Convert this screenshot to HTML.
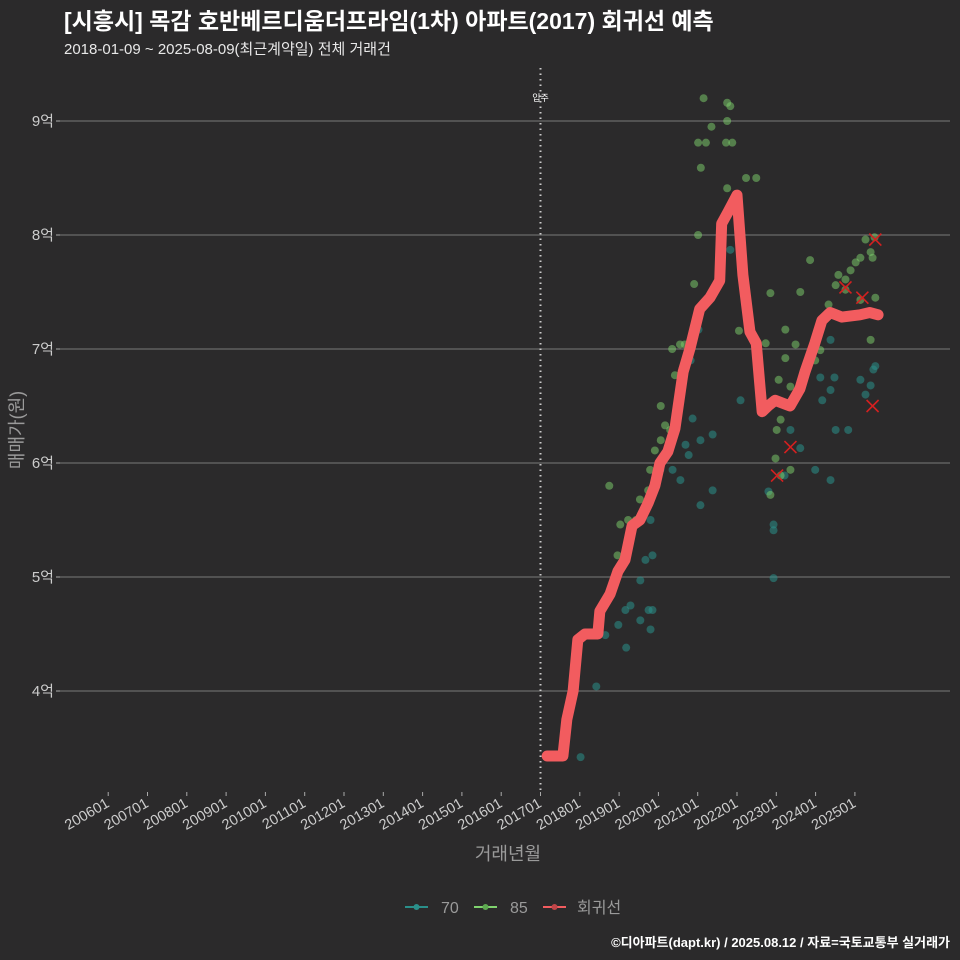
<!DOCTYPE html>
<html><head><meta charset="utf-8">
<style>
html,body{margin:0;padding:0;background:#2b2a2b;overflow:hidden;}
svg{display:block;}
svg text{font-family:"Liberation Sans","Noto Sans CJK KR",sans-serif;}
</style></head>
<body>
<svg id="chart" width="960" height="960" viewBox="0 0 960 960" xmlns="http://www.w3.org/2000/svg">
<rect width="960" height="960" fill="#2b2a2b"/>
<text x="64" y="29" fill="#ffffff" font-size="23" font-weight="bold">[시흥시] 목감 호반베르디움더프라임(1차) 아파트(2017) 회귀선 예측</text>
<text x="64" y="54" fill="#e8e8e8" font-size="15">2018-01-09 ~ 2025-08-09(최근계약일) 전체 거래건</text>
<g id="grid"></g>
<g id="yticks"></g>
<g id="xticks"></g>
<line x1="540.5" x2="540.5" y1="68" y2="790" stroke="#cccccc" stroke-width="2" stroke-dasharray="1.5,4"/>
<text x="540.5" y="101" fill="#ffffff" font-size="9" text-anchor="middle">입주</text>
<g id="pts70"></g>
<g id="pts85"></g>
<path id="reg" fill="none" stroke="#f25c5f" stroke-width="11" stroke-linejoin="round" stroke-linecap="round"/>
<g id="outliers"></g>
<text transform="translate(23,430) rotate(-90)" fill="#9a9a9a" font-size="18" text-anchor="middle">매매가(원)</text>
<text x="508" y="860" fill="#9a9a9a" font-size="18" text-anchor="middle">거래년월</text>
<g>
<g><line x1="405" x2="428" y1="907" y2="907" stroke="#2a8f8a" stroke-width="2"/><circle cx="416.5" cy="907" r="3" fill="#2a8f8a"/><text x="441" y="913" fill="#9a9a9a" font-size="16">70</text></g>
<g><line x1="474" x2="497" y1="907" y2="907" stroke="#7fd36e" stroke-width="2"/><circle cx="485.5" cy="907" r="3" fill="#5da850"/><text x="510" y="913" fill="#9a9a9a" font-size="16">85</text></g>
<g><line x1="543" x2="566" y1="907" y2="907" stroke="#f25c5f" stroke-width="2"/><circle cx="554.5" cy="907" r="3" fill="#c04548"/><text x="577" y="913" fill="#9a9a9a" font-size="16">회귀선</text></g>
</g>
<text x="950" y="947" fill="#ffffff" font-size="13" font-weight="bold" text-anchor="end">©디아파트(dapt.kr) / 2025.08.12 / 자료=국토교통부 실거래가</text>
</svg>
<script>
const yTicks=[9,8,7,6,5,4];
const yLabels=["9억","8억","7억","6억","5억","4억"];
const xTickYears=[2006,2007,2008,2009,2010,2011,2012,2013,2014,2015,2016,2017,2018,2019,2020,2021,2022,2023,2024,2025];
const xTickLabels=["200601","200701","200801","200901","201001","201101","201201","201301","201401","201501","201601","201701","201801","201901","202001","202101","202201","202301","202401","202501"];
const regYears=[2017.17,2017.57,2017.67,2017.83,2017.95,2018.13,2018.46,2018.51,2018.77,2018.97,2019.15,2019.33,2019.53,2019.74,2019.91,2020.04,2020.24,2020.42,2020.63,2020.80,2021.05,2021.31,2021.56,2021.61,2021.77,2022.00,2022.15,2022.33,2022.49,2022.64,2022.79,2022.97,2023.35,2023.60,2023.73,2023.98,2024.16,2024.37,2024.67,2025.13,2025.38,2025.59];
const regValues=[3.43,3.43,3.75,4.0,4.45,4.5,4.5,4.7,4.85,5.05,5.15,5.45,5.5,5.65,5.8,6.0,6.1,6.3,6.8,7.0,7.35,7.45,7.6,8.1,8.2,8.35,7.65,7.15,7.05,6.45,6.5,6.55,6.5,6.65,6.8,7.05,7.25,7.32,7.28,7.3,7.32,7.3];
const yrs85=[2021.15,2021.35,2021.01,2021.21,2021.75,2021.83,2021.75,2021.72,2021.88,2021.08,2022.23,2022.49,2021.01,2021.75,2020.91,2023.86,2023.61,2022.85,2022.21,2022.05,2020.80,2020.62,2020.42,2020.35,2020.55,2020.67,2020.06,2020.17,2020.06,2020.30,2019.91,2019.79,2019.74,2019.53,2019.43,2019.23,2018.75,2019.91,2019.03,2018.96,2023.23,2023.23,2023.36,2022.73,2023.61,2023.99,2024.12,2024.17,2024.33,2024.51,2024.58,2024.76,2024.89,2025.02,2025.14,2025.40,2025.27,2025.45,2025.52,2025.50,2024.76,2025.14,2025.40,2023.06,2023.01,2023.11,2022.98,2023.36,2023.11,2023.49,2022.85];
const vals85=[9.20,8.95,8.81,8.81,9.16,9.13,9.00,8.81,8.81,8.59,8.50,8.50,8.00,8.41,7.57,7.78,7.50,7.49,7.39,7.16,7.00,6.83,6.77,7.00,7.04,7.04,6.50,6.33,6.20,6.29,6.11,5.94,5.76,5.68,5.50,5.50,5.80,5.81,5.46,5.19,7.17,6.92,6.67,7.05,6.68,6.90,6.99,7.25,7.39,7.56,7.65,7.61,7.69,7.76,7.80,7.85,7.96,7.80,7.45,7.98,7.52,7.43,7.08,6.73,6.29,6.38,6.04,5.94,5.89,7.04,5.72];
const yrs70=[2021.38,2021.38,2021.83,2022.09,2021.58,2021.07,2020.82,2021.02,2020.87,2021.07,2020.77,2020.56,2020.69,2020.36,2020.05,2019.80,2019.80,2019.67,2019.85,2019.85,2019.75,2019.80,2019.54,2019.16,2019.18,2018.98,2019.54,2019.29,2018.42,2018.65,2018.02,2022.93,2022.93,2022.93,2022.80,2023.36,2023.61,2024.38,2024.48,2024.51,2024.38,2024.12,2024.17,2023.99,2024.38,2025.14,2025.27,2025.47,2025.40,2025.52,2024.83,2023.21];
const vals70=[6.25,5.76,7.87,6.55,7.91,5.63,6.90,7.17,6.39,6.20,6.07,5.85,6.16,5.94,5.94,5.68,5.50,5.15,5.19,4.71,4.71,4.54,4.97,4.71,4.38,4.58,4.62,4.75,4.04,4.49,3.42,5.46,5.41,4.99,5.75,6.29,6.13,6.64,6.75,6.29,7.08,6.75,6.55,5.94,5.85,6.73,6.60,6.82,6.68,6.85,6.29,5.89];
const outYears=[2025.52,2024.76,2025.19,2025.45,2023.36,2023.02];
const outValues=[7.96,7.54,7.45,6.50,6.14,5.89];

const NS="http://www.w3.org/2000/svg";
const xs=y=>540.5+(y-2017)*39.3;
const ys=v=>121+(9-v)*114;
function mk(tag,attrs,parent){const e=document.createElementNS(NS,tag);for(const k in attrs)e.setAttribute(k,attrs[k]);parent.appendChild(e);return e;}
const grid=document.getElementById('grid'),yt=document.getElementById('yticks'),xt=document.getElementById('xticks');
yTicks.forEach((v,i)=>{
  const l=mk('line',{x1:60,x2:950,y1:ys(v),y2:ys(v),stroke:'#6a6a6a','stroke-width':1.2},grid);
  
  
  const t=mk('line',{x1:56,x2:60,y1:ys(v),y2:ys(v),stroke:'#aaa'},yt);
  
  
  const tx=mk('text',{x:54,y:ys(v)+5,fill:'#cccccc','font-size':15,'text-anchor':'end'},yt);
  tx.textContent=yLabels[i];
  
  
});
xTickYears.forEach((yr,i)=>{
  const x=xs(yr);
  const t=mk('line',{x1:x,x2:x,y1:792,y2:796,stroke:'#aaa'},xt);
  
  
  const tx=mk('text',{x:x+2,y:806,fill:'#cccccc','font-size':14.5,'text-anchor':'end',transform:`rotate(-30 ${x+2} 806)`},xt);
  tx.textContent=xTickLabels[i];
  
  
});
const g70=document.getElementById('pts70'),g85=document.getElementById('pts85');
yrs70.forEach((yr,i)=>{
  const c=mk('circle',{cx:xs(yr),cy:ys(vals70[i]),r:4,fill:'#2a8f8a','fill-opacity':0.55},g70);
  
  
});
yrs85.forEach((yr,i)=>{
  const c=mk('circle',{cx:xs(yr),cy:ys(vals85[i]),r:4,fill:'#7fd36e','fill-opacity':0.5},g85);
  
  
});
document.getElementById('reg').setAttribute('d',regYears.map((yr,i)=>(i?'L':'M')+xs(yr)+' '+ys(regValues[i])).join(' '));
const go=document.getElementById('outliers');
outYears.forEach((yr,i)=>{
  const x=xs(yr),y=ys(outValues[i]);
  const p=mk('path',{d:`M${x-6} ${y-6}L${x+6} ${y+6}M${x-6} ${y+6}L${x+6} ${y-6}`,stroke:'#d42020','stroke-width':1.6},go);
  
  
});
</script>
</body></html>
